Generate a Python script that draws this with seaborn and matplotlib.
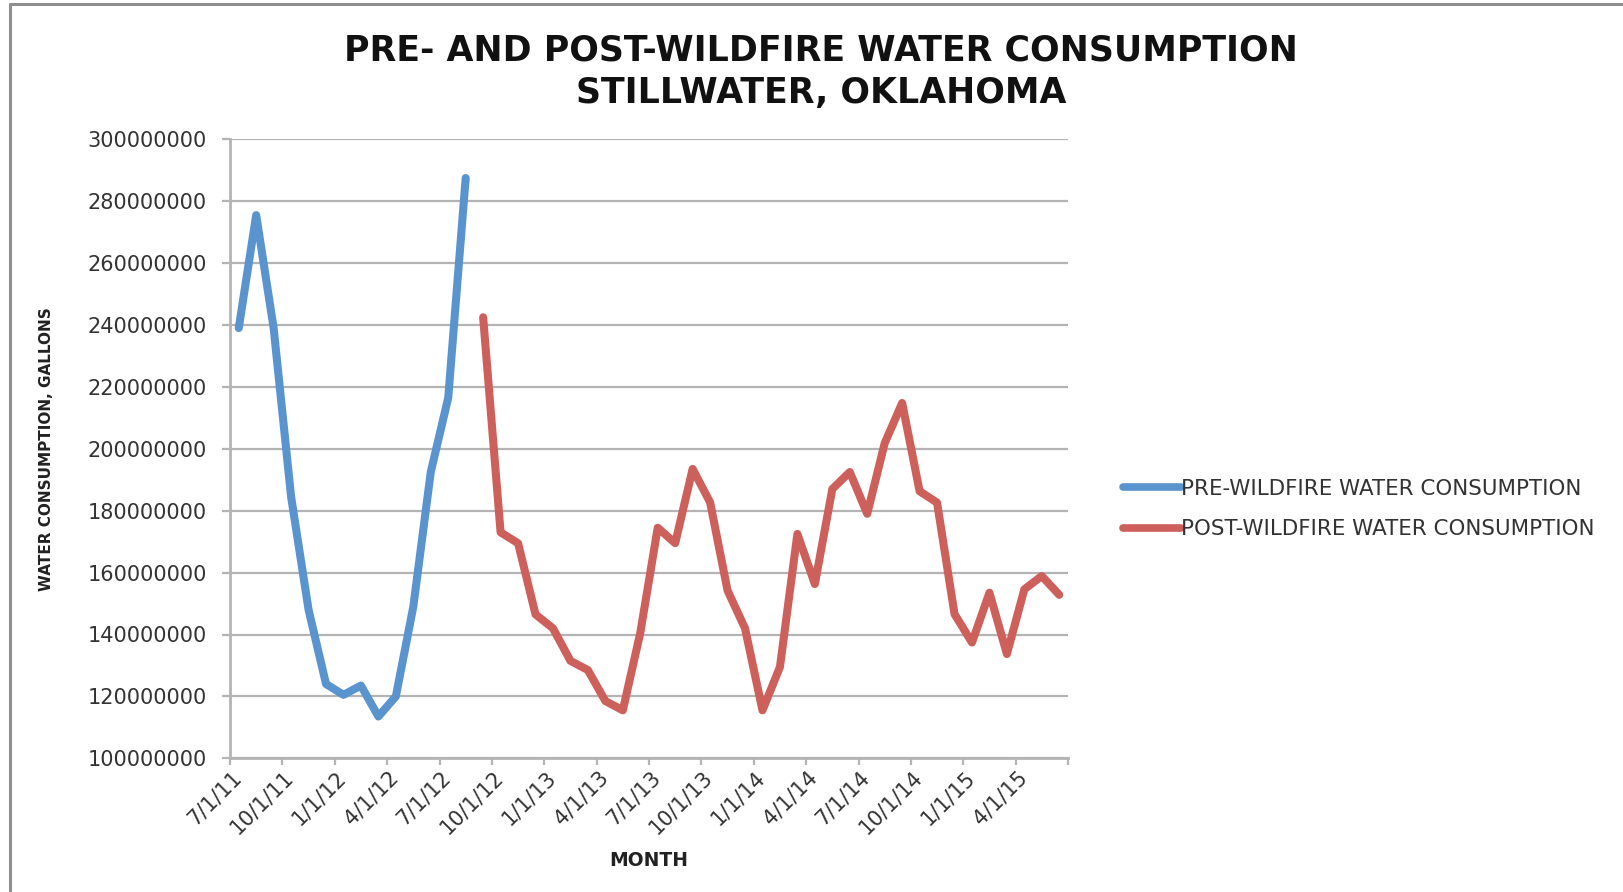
import matplotlib
matplotlib.use("Agg")
import matplotlib.pyplot as plt
import matplotlib.ticker as mticker
import matplotlib.transforms as mtransforms
from matplotlib.lines import Line2D
import numpy as np
import pandas as pd
import seaborn as sns

# Monthly water consumption, gallons
pre_start = "2011-07-01"
pre_values = [239.0, 275.5, 239.0, 184.5, 148.0, 124.0, 120.5, 123.5,
              113.5, 120.0, 149.0, 192.5, 216.5, 287.5]
post_start = "2012-09-01"
post_values = [242.5, 173.0, 169.5, 146.5, 142.0, 131.5, 128.5, 118.5,
               115.5, 140.5, 174.5, 169.5, 193.5, 182.7, 154.2, 142.0,
               115.5, 129.5, 172.5, 156.3, 187.0, 192.5, 179.0, 201.8,
               214.8, 186.3, 182.6, 146.6, 137.4, 153.5, 133.7, 154.6,
               158.9, 152.8]
series_names = ["PRE-WILDFIRE WATER CONSUMPTION", "POST-WILDFIRE WATER CONSUMPTION"]
series_colors = ["#5A94CF", "#CD605A"]

axis_start = pd.Timestamp("2011-07-01")
axis_months = 48
y_ticks = [100000000, 120000000, 140000000, 160000000, 180000000, 200000000,
           220000000, 240000000, 260000000, 280000000, 300000000]

title = "PRE- AND POST-WILDFIRE WATER CONSUMPTION\nSTILLWATER, OKLAHOMA"
x_label = "MONTH"
y_label = "WATER CONSUMPTION, GALLONS"


def month_index(start, n):
    d = pd.date_range(start, periods=n, freq="MS")
    return (d.year - axis_start.year) * 12 + (d.month - axis_start.month)


frames = []
for name, start, vals in [(series_names[0], pre_start, pre_values),
                          (series_names[1], post_start, post_values)]:
    idx = month_index(start, len(vals))
    frames.append(pd.DataFrame({
        "month": np.asarray(idx) + 0.5,           # centre of each monthly slot
        "gallons": np.asarray(vals) * 1e6,
        "series": name,
    }))
df = pd.concat(frames, ignore_index=True)

sns.set_style("white")
plt.rcParams["font.family"] = ["DejaVu Sans"]

W, H = 1623, 892
fig = plt.figure(figsize=(W / 100, H / 100), dpi=100)
ax = fig.add_axes([230 / W, 1 - 758.3 / H, (1068 - 230) / W, (758.3 - 139.3) / H])

sns.lineplot(data=df, x="month", y="gallons", hue="series",
             hue_order=series_names, palette=dict(zip(series_names, series_colors)),
             linewidth=5.8, ax=ax, legend=True, solid_joinstyle="round",
             solid_capstyle="round")

grid_col = "#B4B4B4"
ax.set_ylim(y_ticks[0], y_ticks[-1])
ax.set_yticks(y_ticks)
ax.yaxis.set_major_formatter(mticker.FuncFormatter(lambda v, p: f"{int(round(v))}"))
ax.grid(axis="y", color=grid_col, linewidth=1.6)
ax.set_axisbelow(True)

ax.set_xlim(0, axis_months)
tick_pos = list(range(0, axis_months + 1, 3))
tick_dates = [axis_start + pd.DateOffset(months=m) for m in tick_pos]
tick_lbls = [f"{d.month}/{d.day}/{d.year % 100:02d}" for d in tick_dates]
tick_lbls[-1] = ""
ax.set_xticks(tick_pos)
ax.set_xticklabels(tick_lbls)

for side in ["top", "right"]:
    ax.spines[side].set_visible(False)
for side in ["left", "bottom"]:
    ax.spines[side].set_color(grid_col)
    ax.spines[side].set_linewidth(2.0)

ax.tick_params(axis="y", which="major", left=True, length=6, width=1.6,
               color=grid_col, labelsize=15, labelcolor="#333333", pad=10.5)
ax.tick_params(axis="x", which="major", bottom=True, length=5, width=1.6,
               color=grid_col, labelsize=15, labelcolor="#333333", pad=4)

offset = mtransforms.ScaledTranslation(1 / 100, 4 / 100, fig.dpi_scale_trans)
for lbl in ax.get_xticklabels():
    lbl.set_rotation(45)
    lbl.set_ha("right")
    lbl.set_va("top")
    lbl.set_rotation_mode("anchor")
    lbl.set_transform(lbl.get_transform() + offset)

ax.set_xlabel(x_label, fontsize=13.5, fontweight="bold", color="#222222")
ax.xaxis.set_label_coords(0.5, -0.15)
ax.set_ylabel(y_label, fontsize=11, fontweight="bold", color="#222222")
ax.yaxis.set_label_coords(-0.21, 0.5)

fig.text(821 / W, 1 - 72 / H, title, ha="center", va="center",
         fontsize=25, fontweight="bold", color="#111111", linespacing=1.32)

leg = ax.legend(loc="center left", bbox_to_anchor=(1123 / W, 1 - 509 / H),
                bbox_transform=fig.transFigure, frameon=False, fontsize=15.4,
                handlelength=2.7, handletextpad=0.0, borderpad=0.0,
                borderaxespad=0.0, labelspacing=0.95)
for t in leg.get_texts():
    t.set_color("#333333")
for h in leg.get_lines():
    h.set_linewidth(5.5)
    h.set_solid_capstyle("round")

# outer chart frame
frame_col = "#8F8F8F"
fig.add_artist(Line2D([9.5 / W, 9.5 / W], [0, 1 - 4 / H], transform=fig.transFigure,
                      color=frame_col, linewidth=2.2))
fig.add_artist(Line2D([9.5 / W, 1], [1 - 4 / H, 1 - 4 / H], transform=fig.transFigure,
                      color=frame_col, linewidth=2.2))

fig.savefig("out.png", dpi=100)
